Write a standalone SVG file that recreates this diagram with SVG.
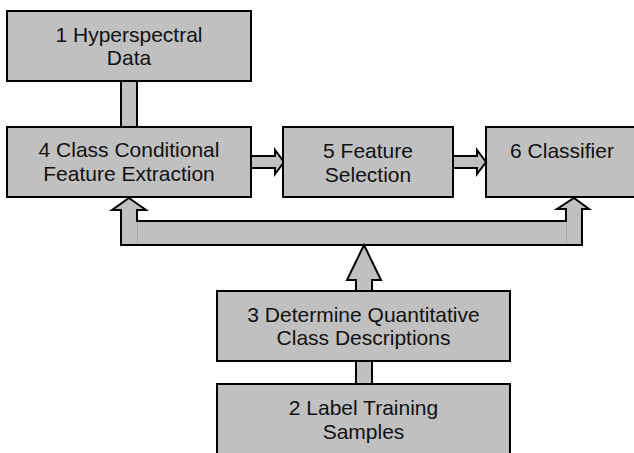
<svg xmlns="http://www.w3.org/2000/svg" width="634" height="453" viewBox="0 0 634 453">
<style>
.box{fill:#c0c0c0;stroke:#000;stroke-width:2}
.conn{fill:#c0c0c0;stroke:#000;stroke-width:2;stroke-linejoin:miter}
.seam{stroke:#a8a8a8;stroke-width:1;fill:none}
text{font-family:"Liberation Sans",Arial,sans-serif;font-size:21px;fill:#111;text-anchor:middle}
</style>
<rect width="634" height="453" fill="#fff"/>
<g id="connectors">
<rect class="conn" x="121" y="81" width="16" height="46"/>
<polygon class="conn" points="251,156 275,156 275,150 284,162 275,174 275,168 251,168"/>
<polygon class="conn" points="453,156 477,156 477,150 486,162 477,174 477,168 453,168"/>
<polygon class="conn" points="129,198 146,210 137,210 137,221 566,221 566,209 557,209 574,198 589,209 582,209 582,245 121,245 121,210 112,210"/>
<line class="seam" x1="137.5" y1="222" x2="137.5" y2="244"/>
<line class="seam" x1="566.5" y1="222" x2="566.5" y2="244"/>
<polygon class="conn" points="364,245 381,280 372,280 372,291 356,291 356,280 347,280"/>
<rect class="conn" x="356" y="361" width="16" height="23"/>
</g>
<g id="node1">
<rect class="box" x="7" y="11" width="244" height="70"/>
<text x="129" y="42">1 Hyperspectral</text>
<text x="129" y="65">Data</text>
</g>
<g id="node4">
<rect class="box" x="7" y="127" width="244" height="70"/>
<text x="129" y="157">4 Class Conditional</text>
<text x="129" y="181">Feature Extraction</text>
</g>
<g id="node5">
<rect class="box" x="283" y="127" width="170" height="70"/>
<text x="368" y="158">5 Feature</text>
<text x="368" y="182">Selection</text>
</g>
<g id="node6">
<rect class="box" x="486" y="127" width="152" height="70"/>
<text x="562" y="158">6 Classifier</text>
</g>
<g id="node3">
<rect class="box" x="217" y="291" width="293" height="70"/>
<text x="363.5" y="322">3 Determine Quantitative</text>
<text x="363.5" y="345">Class Descriptions</text>
</g>
<g id="node2">
<rect class="box" x="217" y="384" width="293" height="76"/>
<text x="363.5" y="415">2 Label Training</text>
<text x="363.5" y="439">Samples</text>
</g>
</svg>
